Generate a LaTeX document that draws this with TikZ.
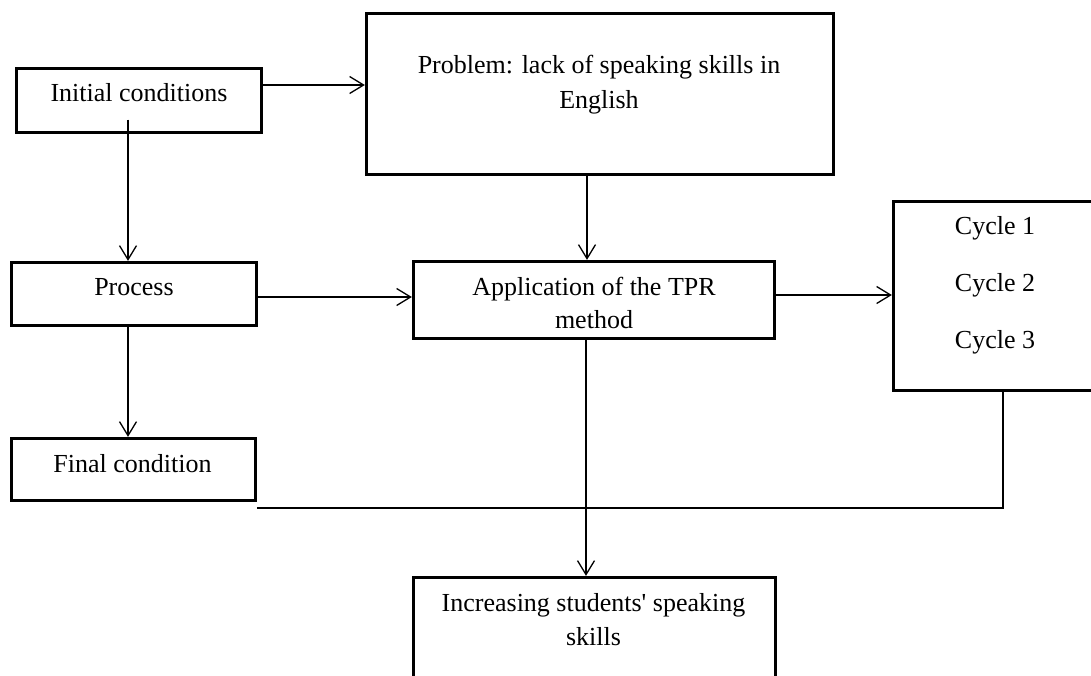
\documentclass[tikz,border=0pt]{standalone}
\usepackage{fontspec}
\setmainfont{Liberation Serif}
\usetikzlibrary{arrows.meta}
\begin{document}
\begin{tikzpicture}[x=1pt,y=-1pt,
  box/.style={draw, line width=3.3pt, rectangle, inner sep=0pt},
  txt/.style={font=\fontsize{26}{35}\selectfont, align=center, anchor=base, inner sep=0pt},
  conn/.style={line width=1.3pt},
  arr/.style={conn, -{Straight Barb[length=14pt,width=17pt,line width=1.3pt]}}]
\useasboundingbox (0,0) rectangle (1091,675);
\clip (0,0) rectangle (1091,675);
% boxes
\node[box, minimum width=245pt, minimum height=64pt]  (init)    at (139,100.5) {};
\node[box, minimum width=467pt, minimum height=161pt] (problem) at (600,94) {};
\node[box, minimum width=245pt, minimum height=63pt]  (process) at (134,294) {};
\node[box, minimum width=361pt, minimum height=77pt]  (app)     at (594,300) {};
\node[box, minimum width=203pt, minimum height=189pt] (cycle)   at (995,296) {};
\node[box, minimum width=244pt, minimum height=62pt]  (final)   at (133.5,469.5) {};
\node[box, minimum width=362pt, minimum height=130pt] (incr)    at (594.5,642.5) {};
% texts (base anchor = baseline of the last line)
\node[txt] (tinit) at (139,101) {Initial conditions};
\node[txt] (tproblem) at (599,108) {Problem: lack of speaking skills in\\English};
\node[txt] (tprocess) at (134,295) {Process};
\node[txt, font=\fontsize{26}{33}\selectfont] (tapp) at (594,328) {Application of the TPR\\method};
\node[txt, font=\fontsize{26}{57}\selectfont] (tcycle) at (995,348) {Cycle 1\\Cycle 2\\Cycle 3};
\node[txt] (tfinal) at (132.5,472) {Final condition};
\node[txt, font=\fontsize{26}{34}\selectfont] (tincr) at (593.5,645) {Increasing students\textquotesingle{} speaking\\skills};
% connector start points
\coordinate (s1) at ([yshift=15.5pt]init.east);
\coordinate (s2) at ([xshift=-11pt,yshift=14.5pt]init.south);
\coordinate (s3) at ([yshift=-3pt]process.east);
\coordinate (s4) at ([xshift=-6pt]process.south);
\coordinate (s5) at ([xshift=-13pt]problem.south);
\coordinate (s6) at ([yshift=5pt]app.east);
\coordinate (s7) at ([xshift=-8pt]app.south);
\coordinate (s8) at ([xshift=8pt]cycle.south);
\coordinate (join) at (257,508);
% connectors
\draw[arr] (s1) -- (s1 -| problem.west);
\draw[arr] (s2) -- (s2 |- process.north);
\draw[arr] (s3) -- (s3 -| app.west);
\draw[arr] (s4) -- (s4 |- final.north);
\draw[arr] (s5) -- (s5 |- app.north);
\draw[arr] (s6) -- (s6 -| cycle.west);
\draw[arr] (s7) -- (s7 |- incr.north);
\draw[conn] (s8) |- (join);
\end{tikzpicture}
\end{document}
